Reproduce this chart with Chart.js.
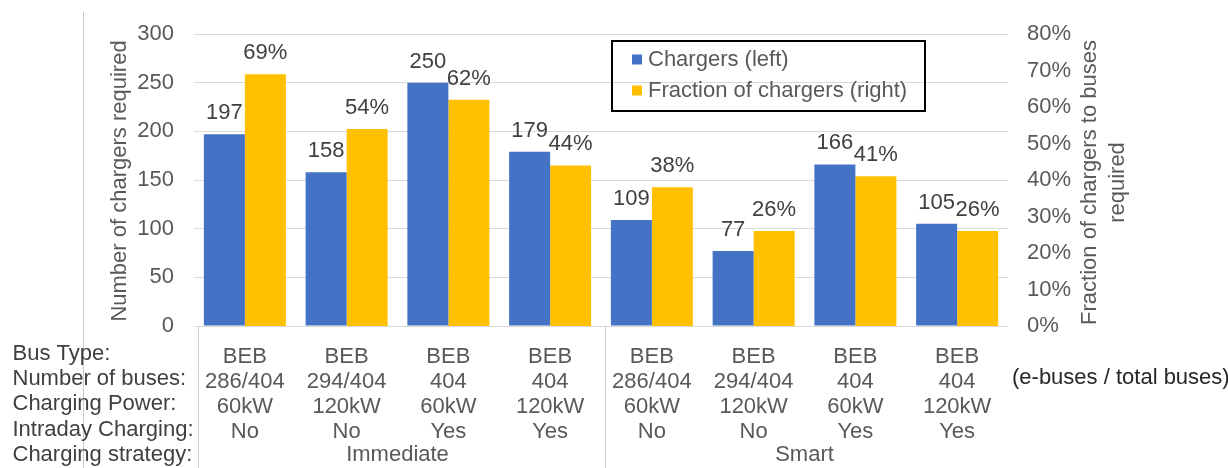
<!DOCTYPE html>
<html lang="en">
<head>
    <meta charset="UTF-8">
    <title>Chargers required</title>
    <style>
        body {
            margin: 0;
            background: #ffffff;
            overflow: hidden;
        }
        .wrap {
            width: 1228px;
            height: 468px;
        }
    </style>
    <script src="https://cdn.jsdelivr.net/npm/chart.js"></script>
</head>
<body>
    <div class="wrap">
        <canvas id="chart"></canvas>
    </div>

    <script>
        const busType = ['BEB', 'BEB', 'BEB', 'BEB', 'BEB', 'BEB', 'BEB', 'BEB'];
        const numBuses = ['286/404', '294/404', '404', '404', '286/404', '294/404', '404', '404'];
        const chargingPower = ['60kW', '120kW', '60kW', '120kW', '60kW', '120kW', '60kW', '120kW'];
        const intraday = ['No', 'No', 'Yes', 'Yes', 'No', 'No', 'Yes', 'Yes'];
        const strategies = ['Immediate', 'Smart'];
        const rowLabels = ['Bus Type:', 'Number of buses:', 'Charging Power:', 'Intraday Charging:', 'Charging strategy:'];

        const chargers = [197, 158, 250, 179, 109, 77, 166, 105];
        const fraction = [0.69, 0.54, 0.62, 0.44, 0.38, 0.26, 0.41, 0.26];

        const leftTicks = [0, 50, 100, 150, 200, 250, 300];
        const rightTicks = [0, 0.1, 0.2, 0.3, 0.4, 0.5, 0.6, 0.7, 0.8];

        const FONT = '"Liberation Sans", Arial, sans-serif';
        const SIZE = 22;
        const BLUE = '#4472C4';
        const YELLOW = '#FFC000';

        const labels = busType.map((b, i) => [b, numBuses[i], chargingPower[i], intraday[i]]);

        function pct(v) {
            return Math.round(v * 100) + '%';
        }

        // value labels above each bar
        const valueLabels = {
            id: 'valueLabels',
            afterDatasetsDraw(chart) {
                const ctx = chart.ctx;
                ctx.save();
                ctx.font = SIZE + 'px ' + FONT;
                ctx.fillStyle = '#404040';
                ctx.textAlign = 'center';
                ctx.textBaseline = 'middle';
                chart.data.datasets.forEach((ds, di) => {
                    chart.getDatasetMeta(di).data.forEach((bar, i) => {
                        const v = ds.data[i];
                        ctx.fillText(di === 0 ? String(v) : pct(v), bar.x, bar.y - 21);
                    });
                });
                ctx.restore();
            }
        };

        // titles, row labels, group labels, separators and the boxed legend
        const extras = {
            id: 'extras',
            afterDraw(chart) {
                const ctx = chart.ctx;
                const area = chart.chartArea;
                const x = chart.scales.x;
                const half = (x.getPixelForValue(1) - x.getPixelForValue(0)) / 2;
                ctx.save();

                // page edge line
                ctx.strokeStyle = '#C8C8C8';
                ctx.lineWidth = 1;
                ctx.beginPath();
                ctx.moveTo(83.5, 12);
                ctx.lineTo(83.5, 468);
                ctx.stroke();

                // group separators below the axis
                ctx.strokeStyle = '#D0D0D0';
                [0, 4].forEach(i => {
                    const px = Math.round(x.getPixelForValue(i) - half + 4) + 0.5;
                    ctx.beginPath();
                    ctx.moveTo(px, area.bottom);
                    ctx.lineTo(px, 468);
                    ctx.stroke();
                });

                ctx.font = SIZE + 'px ' + FONT;
                ctx.textBaseline = 'middle';

                // axis titles
                ctx.fillStyle = '#595959';
                ctx.textAlign = 'center';
                ctx.save();
                ctx.translate(120, 181);
                ctx.rotate(-Math.PI / 2);
                ctx.fillText('Number of chargers required', 0, 0);
                ctx.restore();
                ctx.save();
                ctx.translate(area.right + 82, 182.5);
                ctx.rotate(-Math.PI / 2);
                ctx.fillText('Fraction of chargers to buses', 0, 0);
                ctx.fillText('required', 0, 27.5);
                ctx.restore();

                // strategy group labels
                ctx.fillText(strategies[0], (x.getPixelForValue(1) + x.getPixelForValue(2)) / 2, 455);
                ctx.fillText(strategies[1], (x.getPixelForValue(5) + x.getPixelForValue(6)) / 2, 455);

                // row labels
                ctx.fillStyle = '#404040';
                ctx.textAlign = 'left';
                rowLabels.forEach((t, i) => ctx.fillText(t, 12.5, 354 + i * 25.2));
                ctx.fillStyle = '#262626';
                ctx.fillText('(e-buses / total buses)', 1012, 378);

                // legend box
                ctx.strokeStyle = '#000000';
                ctx.lineWidth = 2;
                ctx.strokeRect(612, 41, 313, 70);
                const items = [['Chargers (left)', BLUE], ['Fraction of chargers (right)', YELLOW]];
                items.forEach((it, i) => {
                    const cy = 59.5 + i * 31;
                    ctx.fillStyle = it[1];
                    ctx.fillRect(632, cy - 5, 10, 10);
                    ctx.fillStyle = '#595959';
                    ctx.fillText(it[0], 648, cy);
                });

                ctx.restore();
            }
        };

        new Chart(document.getElementById('chart'), {
            type: 'bar',
            data: {
                labels: labels,
                datasets: [{
                    label: 'Chargers (left)',
                    data: chargers,
                    backgroundColor: BLUE,
                    yAxisID: 'y',
                    categoryPercentage: 0.806,
                    barPercentage: 1.0
                }, {
                    label: 'Fraction of chargers (right)',
                    data: fraction,
                    backgroundColor: YELLOW,
                    yAxisID: 'y1',
                    categoryPercentage: 0.806,
                    barPercentage: 1.0
                }]
            },
            options: {
                responsive: true,
                maintainAspectRatio: false,
                animation: false,
                layout: {
                    padding: { top: 34, left: 0, right: 0, bottom: 0 }
                },
                plugins: {
                    legend: { display: false },
                    tooltip: { enabled: false }
                },
                scales: {
                    x: {
                        grid: { display: false },
                        border: { display: false },
                        ticks: {
                            autoSkip: false,
                            maxRotation: 0,
                            padding: 10,
                            color: '#595959',
                            font: { family: FONT, size: SIZE, lineHeight: 25 / 22 }
                        },
                        afterFit(scale) { scale.height = 142; }
                    },
                    y: {
                        position: 'left',
                        min: 0,
                        max: 300,
                        afterBuildTicks(scale) { scale.ticks = leftTicks.map(v => ({ value: v })); },
                        grid: { color: '#D9D9D9', lineWidth: 1, drawTicks: false },
                        border: { display: false },
                        ticks: {
                            padding: 20,
                            color: '#595959',
                            font: { family: FONT, size: SIZE }
                        },
                        afterFit(scale) { scale.width = 194; }
                    },
                    y1: {
                        position: 'right',
                        min: 0,
                        max: 0.8,
                        afterBuildTicks(scale) { scale.ticks = rightTicks.map(v => ({ value: v })); },
                        grid: { display: false, drawTicks: false },
                        border: { display: false },
                        ticks: {
                            padding: 19,
                            color: '#595959',
                            font: { family: FONT, size: SIZE },
                            callback: v => pct(v)
                        },
                        afterFit(scale) { scale.width = 1228 - 1008; }
                    }
                }
            },
            plugins: [valueLabels, extras]
        });
    </script>
</body>
</html>
